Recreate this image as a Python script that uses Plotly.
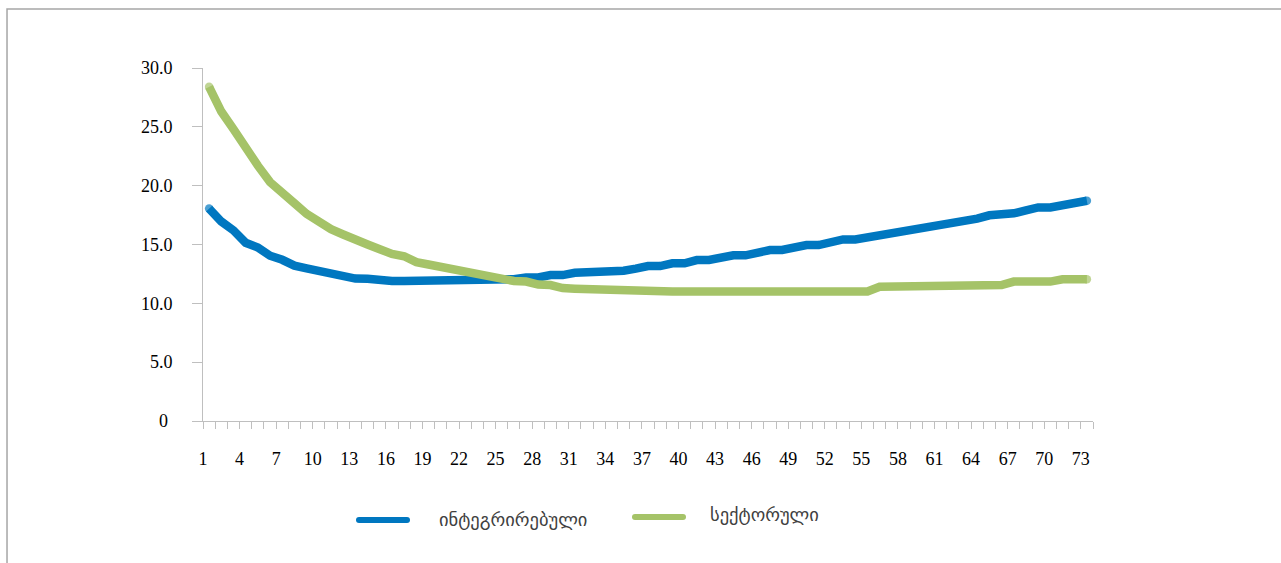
import plotly.graph_objects as go

# Periods on the horizontal axis
periods = list(range(1, 74))

# Series values
integrated = [
    18.05, 16.95, 16.2, 15.15, 14.75, 14.05, 13.7, 13.2, 12.97, 12.75,
    12.55, 12.3, 12.1, 12.08, 11.92, 11.9, 11.9, 11.9, 11.9, 11.9,
    11.9, 11.9, 11.9, 11.9, 11.9, 12.05, 12.2, 12.2, 12.4, 12.4,
    12.6, 12.6, 12.77, 12.77, 12.77, 12.95, 13.17, 13.17, 13.4, 13.4,
    13.68, 13.68, 13.88, 14.08, 14.08, 14.28, 14.53, 14.53, 14.75, 14.95,
    14.95, 15.2, 15.43, 15.43, 15.6, 15.85, 16.06, 16.06, 16.3, 16.55,
    16.74, 16.74, 16.95, 17.2, 17.48, 17.48, 17.65, 17.9, 18.15, 18.15,
    18.3, 18.5, 18.72,
]
sectoral = [
    28.4, 26.3, 24.8, 23.1, 21.7, 20.3, 19.5, 18.5, 17.6, 16.9,
    16.3, 15.85, 15.5, 15.0, 14.6, 14.2, 14.0, 13.5, 13.3, 13.1,
    12.85, 12.6, 12.4, 12.15, 12.1, 11.9, 11.85, 11.6, 11.55, 11.3,
    11.25, 11.2, 11.2, 11.2, 11.2, 11.0, 11.0, 11.0, 11.0, 11.0,
    11.0, 11.0, 11.0, 11.0, 11.0, 11.0, 11.0, 11.0, 11.0, 11.0,
    11.0, 11.0, 11.0, 11.0, 11.0, 11.4, 11.4, 11.4, 11.4, 11.4,
    11.4, 11.55, 11.55, 11.55, 11.55, 11.55, 11.85, 11.85, 11.85, 11.85,
    12.05, 12.05, 12.05,
]

series_names = ["ინტეგრირებული", "სექტორული"]
series_colors = ["#0077C0", "#A5C368"]

y_ticks = [0, 5, 10, 15, 20, 25, 30]
y_tick_text = ["0\u00a0", "5.0", "10.0", "15.0", "20.0", "25.0", "30.0"]

# Tick marks sit on category boundaries; every third boundary carries a label
x_tick_vals = [p - 0.5 for p in periods] + [periods[-1] + 0.5]
x_tick_text = [str(p) if (p - 1) % 3 == 0 else "" for p in periods] + [""]

LINE_W = 8.5
AXIS_GREY = "#BFBFBF"
SERIF = "Liberation Serif"

fig = go.Figure()
for name, vals, color in zip(series_names, [integrated, sectoral], series_colors):
    # round ends of each line via endpoint markers
    sizes = [LINE_W] + [0] * (len(vals) - 2) + [LINE_W]
    fig.add_trace(go.Scatter(
        x=periods, y=vals, name=name, mode="lines+markers",
        line=dict(color=color, width=LINE_W),
        marker=dict(size=sizes, color=color, line=dict(width=0)),
        showlegend=False, hoverinfo="skip",
    ))

fig.update_layout(
    width=1281, height=563,
    margin=dict(l=203, r=188, t=68, b=142),
    paper_bgcolor="white", plot_bgcolor="white",
    showlegend=False,
)
fig.update_xaxes(
    range=[0.5, 73.5], tickmode="array", tickvals=x_tick_vals, ticktext=x_tick_text,
    showgrid=False, zeroline=False, showline=True, linecolor=AXIS_GREY, linewidth=1,
    ticks="outside", ticklen=7, tickcolor=AXIS_GREY, tickwidth=1,
    ticklabelstandoff=14,
    tickfont=dict(family=SERIF, size=18, color="#000000"),
)
fig.update_yaxes(
    range=[0, 30], tickmode="array", tickvals=y_ticks, ticktext=y_tick_text,
    showgrid=False, zeroline=False, showline=True, linecolor=AXIS_GREY, linewidth=1,
    ticks="outside", ticklen=10, tickcolor=AXIS_GREY, tickwidth=1,
    ticklabelstandoff=16,
    tickfont=dict(family=SERIF, size=18, color="#000000"),
)

# outer frame of the chart area
fig.add_shape(type="rect", xref="paper", yref="paper",
              x0=-0.2202, x1=1.5, y0=-0.6, y1=1.1671,
              line=dict(color="#A6A6A6", width=1.5), fillcolor="rgba(0,0,0,0)",
              layer="below")

# legend drawn below the plot
plot_w, plot_h = 890, 353
def px_x(px):
    return (px - 203) / plot_w
def px_y(py):
    return (421 - py) / plot_h

legend_items = [
    (356, 410, 520, 437, 519),
    (632, 686, 517, 708, 514),
]
for (lx0, lx1, ly, tx, ty), name, color in zip(legend_items, series_names, series_colors):
    fig.add_shape(type="line", xref="paper", yref="paper",
                  x0=px_x(lx0 + 3), x1=px_x(lx1 - 3), y0=px_y(ly), y1=px_y(ly),
                  line=dict(color=color, width=6))
    for cx in (lx0 + 3, lx1 - 3):
        fig.add_shape(type="circle", xref="paper", yref="paper",
                      x0=px_x(cx - 3), x1=px_x(cx + 3), y0=px_y(ly - 3), y1=px_y(ly + 3),
                      line=dict(width=0), fillcolor=color)
    fig.add_annotation(x=px_x(tx), y=px_y(ty), xref="paper", yref="paper",
                       text=name, showarrow=False, xanchor="left", yanchor="middle",
                       font=dict(family="DejaVu Sans", size=18.5, color="#404040"))

fig.write_html("out.html")
